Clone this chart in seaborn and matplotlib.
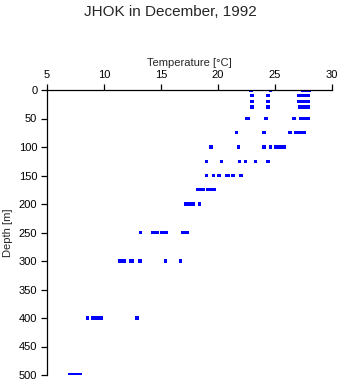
import matplotlib
matplotlib.use("Agg")
import matplotlib.pyplot as plt
import seaborn as sns
import pandas as pd

title = "JHOK in December, 1992"
x_label = "Temperature [°C]"
y_label = "Depth [m]"
x_ticks = [5, 10, 15, 20, 25, 30]
y_ticks = [0, 50, 100, 150, 200, 250, 300, 350, 400, 450, 500]

depth_0 = [22.9, 24.6, 27.4, 27.5, 27.6, 27.7, 27.8, 27.9, 28.0]
depth_10 = [23.0, 24.4, 27.1, 27.3, 27.4, 27.5, 27.6, 27.7, 27.9]
depth_20 = [23.0, 24.4, 27.1, 27.3, 27.4, 27.5, 27.6, 27.7, 27.9]
depth_30 = [23.0, 24.4, 27.2, 27.3, 27.4, 27.5, 27.6, 27.7, 27.9]
depth_50 = [22.55, 22.65, 24.2, 26.6, 26.7, 27.25, 27.4, 27.5, 27.6, 27.8, 27.9]
depth_75 = [21.6, 24.0, 24.1, 26.3, 26.8, 27.1, 27.2, 27.3, 27.5, 27.6]
depth_100 = [19.4, 21.8, 24.0, 24.1, 24.6, 25.1, 25.2, 25.5, 25.6, 25.7, 25.8]
depth_125 = [18.97, 20.3, 21.9, 22.4, 23.3, 24.4]
depth_150 = [18.97, 19.6, 20.1, 20.8, 20.9, 21.3, 22.0]
depth_175 = [18.2, 18.3, 18.5, 18.7, 19.1, 19.2, 19.4, 19.5, 19.7]
depth_200 = [17.2, 17.35, 17.5, 17.8, 18.4]
depth_250 = [13.2, 14.3, 14.5, 14.7, 15.05, 15.25, 15.45, 16.9, 17.1, 17.3]
depth_300 = [11.35, 11.55, 11.8, 12.3, 12.5, 13.15, 15.4, 16.7]
depth_400 = [8.55, 9.05, 9.35, 9.55, 9.75, 12.9]
depth_500 = [6.95, 7.15, 7.35, 7.55, 7.75, 7.9]

profiles = {0: depth_0, 10: depth_10, 20: depth_20, 30: depth_30, 50: depth_50,
            75: depth_75, 100: depth_100, 125: depth_125, 150: depth_150,
            175: depth_175, 200: depth_200, 250: depth_250, 300: depth_300,
            400: depth_400, 500: depth_500}

rows = [(t, d) for d, temps in profiles.items() for t in temps]
df = pd.DataFrame(rows, columns=["temperature", "depth"])

sns.set_theme(style="white")
plt.rcParams["font.family"] = ["Liberation Sans", "DejaVu Sans"]

fig = plt.figure(figsize=(3.41, 3.84), dpi=100)
ax = fig.add_axes([47 / 341, 1 - 375 / 384, 285 / 341, 285 / 384])

sns.scatterplot(data=df, x="temperature", y="depth", ax=ax, marker="s",
                color="#0000ff", s=6, linewidth=0, edgecolor="none")

ax.set_xlim(5, 30)
ax.set_ylim(500, 0)
ax.set_xticks(x_ticks)
ax.set_yticks(y_ticks)
ax.xaxis.tick_top()
ax.xaxis.set_label_position("top")
for side in ["bottom", "right"]:
    ax.spines[side].set_visible(False)
for side in ["top", "left"]:
    ax.spines[side].set_visible(True)
    ax.spines[side].set_color("black")
    ax.spines[side].set_linewidth(0.9)
ax.tick_params(axis="both", direction="out", length=4, width=0.9, colors="black",
               labelsize=8, pad=3)
ax.tick_params(axis="x", top=True, bottom=False)
ax.tick_params(axis="y", left=True, right=False)
ax.set_xlabel(x_label, fontsize=8, labelpad=3)
ax.set_ylabel(y_label, fontsize=8, labelpad=4)
ax.grid(False)

fig.suptitle(title, fontsize=11, y=1 - 12 / 384, va="center")

fig.savefig("out.png", dpi=100)
